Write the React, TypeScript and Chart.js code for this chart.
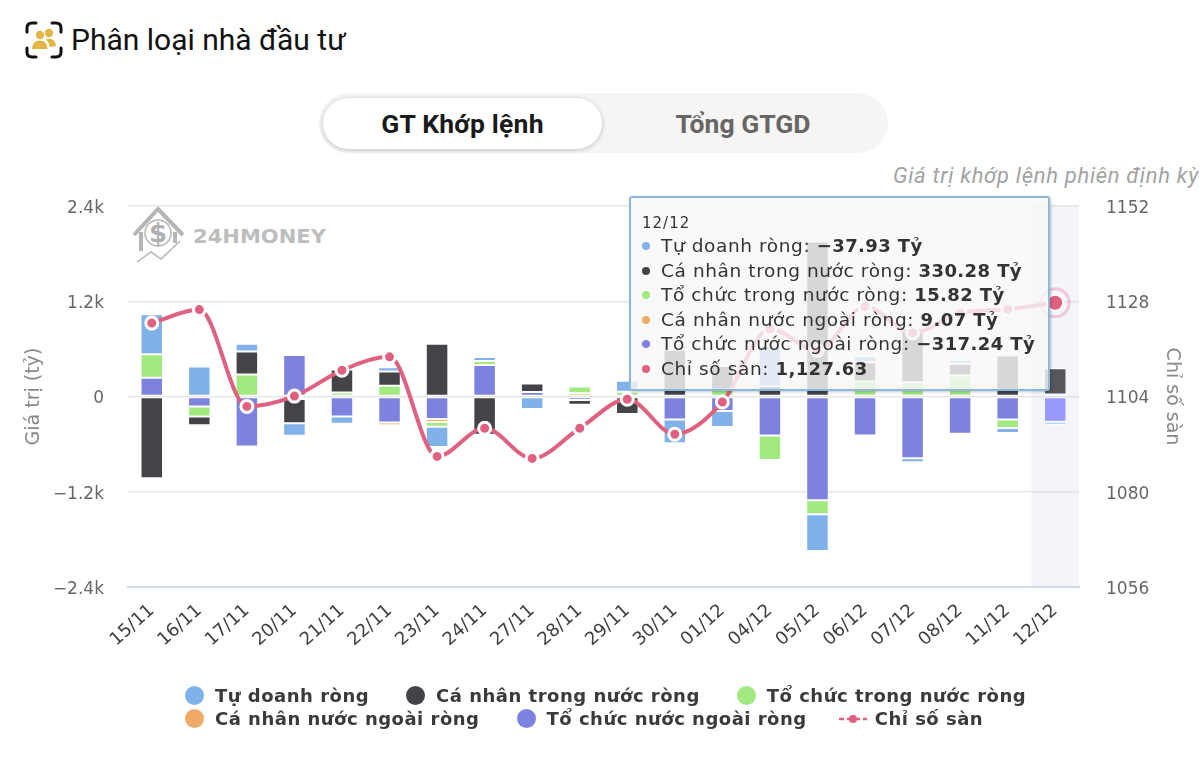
import React, { useEffect, useRef } from "react";
import { Chart, registerables } from "chart.js";

Chart.register(...registerables);

const categories = ["15/11","16/11","17/11","20/11","21/11","22/11","23/11","24/11","27/11","28/11","29/11","30/11","01/12","04/12","05/12","06/12","07/12","08/12","11/12","12/12"];

const tuDoanh = [503,377,100,-159,-92,54,-255,50,-159,0,138,-300,-200,503,-465,75,-50,50,-63,-37.93];
const caNhanTrongNuoc = [-1030,-109,289,-306,290,180,666,-482,105,-60,-220,590,300,130,1953,239,683,150,515,330.28];
const toChucTrongNuoc = [298,-126,277,-30,50,134,-60,50,0,85,60,0,85,-310,-176,193,180,264,-109,15.82];
const caNhanNuocNgoai = [0,0,0,0,0,-35,-35,0,0,40,0,0,0,0,0,0,0,0,0,9.07];
const toChucNuocNgoai = [235,-126,-629,524,-251,-327,-285,398,58,-45,0,-290,-184,-490,-1307,-490,-779,-469,-289,-317.24];
const chiSoSan = [1122.5,1125.9,1101.5,1104.1,1110.6,1114,1088.9,1096,1088.4,1096,1103.3,1094.5,1102.6,1121,1115.6,1126.7,1120,1125,1126,1127.63];

const leftTicks = [-2400,-1200,0,1200,2400];
const rightTicks = [1056,1080,1104,1128,1152];
const leftTickLabels = ["−2.4k","−1.2k","0","1.2k","2.4k"];

const seriesNames = ["Tự doanh ròng","Cá nhân trong nước ròng","Tổ chức trong nước ròng","Cá nhân nước ngoài ròng","Tổ chức nước ngoài ròng","Chỉ số sàn"];
const seriesColors = ["#80b1e8","#434348","#a2e97f","#eeaa66","#7d82df","#e0607f"];
const hoverColors = ["#99ccff","#56565c","#b8ff99","#ffbf80","#9999ff","#e0607f"];
const seriesValues = [tuDoanh,caNhanTrongNuoc,toChucTrongNuoc,caNhanNuocNgoai,toChucNuocNgoai];
const stackOrder = [5,4,3,2,1];
const activeIndex = 19;

const fontFace = "'DejaVu Sans', sans-serif";
const fmt = (v: number) => v.toLocaleString("en-US", { minimumFractionDigits: 2, maximumFractionDigits: 2 }).replace("-", "−");

const highlight = {
  id: "highlight",
  beforeDatasetsDraw(chart: any) {
    const x = chart.scales.x;
    const { top, bottom } = chart.chartArea;
    const step = x.getPixelForValue(1) - x.getPixelForValue(0);
    const ctx = chart.ctx;
    ctx.save();
    ctx.fillStyle = "rgba(204,212,235,0.24)";
    ctx.fillRect(x.getPixelForValue(activeIndex) - step / 2, top, step, bottom - top);
    ctx.restore();
  },
  afterDatasetsDraw(chart: any) {
    const pt = chart.getDatasetMeta(5).data[activeIndex];
    const ctx = chart.ctx;
    ctx.save();
    ctx.strokeStyle = "rgba(224,96,127,0.3)";
    ctx.lineWidth = 3;
    ctx.beginPath();
    ctx.arc(pt.x, pt.y, 14, 0, Math.PI * 2);
    ctx.stroke();
    ctx.restore();
  },
};

export default function App() {
  const canvasRef = useRef<HTMLCanvasElement>(null);
  const tipRef = useRef<HTMLDivElement>(null);

  useEffect(() => {
    document.body.style.margin = "0";
    const datasets: any[] = seriesValues.map((values, i) => ({
      type: "bar",
      label: seriesNames[i],
      data: values,
      backgroundColor: seriesColors[i],
      hoverBackgroundColor: hoverColors[i],
      borderColor: "#ffffff",
      hoverBorderColor: "#ffffff",
      borderWidth: 1,
      hoverBorderWidth: 1,
      borderSkipped: false,
      inflateAmount: 0,
      barThickness: 22.5,
      stack: "flow",
      order: stackOrder[i],
      yAxisID: "y",
    }));
    datasets.push({
      type: "line",
      label: seriesNames[5],
      data: chiSoSan,
      borderColor: seriesColors[5],
      backgroundColor: seriesColors[5],
      borderWidth: 4,
      cubicInterpolationMode: "monotone",
      pointRadius: 6,
      pointBorderWidth: 3,
      pointBorderColor: "#ffffff",
      pointBackgroundColor: seriesColors[5],
      pointHoverRadius: 8,
      pointHoverBorderWidth: 2,
      pointHoverBorderColor: "#ffffff",
      pointHoverBackgroundColor: seriesColors[5],
      order: 0,
      yAxisID: "y1",
    });

    const chart: any = new Chart(canvasRef.current!, {
      type: "bar",
      data: { labels: categories, datasets },
      plugins: [highlight],
      options: {
        responsive: false,
        animation: false,
        events: [],
        layout: { padding: { top: 206, left: 0, right: 0, bottom: 0 } },
        plugins: {
          legend: { display: false },
          tooltip: {
            enabled: false,
            external: ({ tooltip }: any) => {
              const el = tipRef.current;
              if (el) el.style.opacity = tooltip.dataPoints?.length ? "1" : "0";
            },
          },
        },
        scales: {
          x: {
            stacked: true,
            grid: { display: false, drawTicks: false },
            border: { color: "#d3dbe3", width: 2 },
            ticks: {
              autoSkip: false, minRotation: 42, maxRotation: 42, padding: 13,
              color: "#3f3f3f", font: { family: fontFace, size: 18 },
            },
            afterFit: (s: any) => { s.height = 174; },
          },
          y: {
            position: "left",
            stacked: true,
            min: -2400, max: 2400,
            afterBuildTicks: (s: any) => { s.ticks = leftTicks.map((value) => ({ value })); },
            grid: { color: "#e6e6e6", lineWidth: 1.5, drawTicks: false },
            border: { display: false },
            ticks: {
              padding: 24, color: "#666666", labelOffset: 2.5, font: { family: fontFace, size: 17 },
              callback: (v: any) => leftTickLabels[leftTicks.indexOf(v)],
            },
            title: {
              display: true, text: "Giá trị (tỷ)", color: "#888888",
              font: { family: fontFace, size: 19 }, padding: { top: 23, bottom: 0 },
            },
            afterFit: (s: any) => { s.width = 128; },
          },
          y1: {
            position: "right",
            min: 1056, max: 1152,
            afterBuildTicks: (s: any) => { s.ticks = rightTicks.map((value) => ({ value })); },
            grid: { display: false, drawTicks: false },
            border: { display: false },
            ticks: {
              padding: 27, color: "#666666", labelOffset: 2.5, font: { family: fontFace, size: 17 },
              callback: (v: any) => String(v),
            },
            title: {
              display: true, text: "Chỉ số sàn", color: "#888888",
              font: { family: fontFace, size: 19 }, padding: { top: 17, bottom: 0 },
            },
            afterFit: (s: any) => { s.width = 121; },
          },
        },
      } as any,
    });

    const active = datasets.map((_, datasetIndex) => ({ datasetIndex, index: activeIndex }));
    chart.setActiveElements(active);
    chart.tooltip.setActiveElements(active, { x: 0, y: 0 });
    chart.update();

    return () => chart.destroy();
  }, []);

  const rowStyle: React.CSSProperties = { display: "flex", alignItems: "center", gap: 37, height: 23 };
  const legendItem = (i: number) => (
    <div key={i} style={{ display: "flex", alignItems: "center" }}>
      {i === 5 ? (
        <svg width="28" height="12" style={{ marginRight: 8, marginLeft: -5 }}>
          <line x1="0" y1="6" x2="28" y2="6" stroke={seriesColors[i]} strokeWidth="2.5" strokeDasharray="5 3" />
          <circle cx="14" cy="6" r="4" fill={seriesColors[i]} />
        </svg>
      ) : (
        <span style={{ width: 19, height: 19, borderRadius: "50%", background: seriesColors[i], marginRight: 11 }} />
      )}
      <span>{seriesNames[i]}</span>
    </div>
  );

  const values = [...seriesValues.map((a) => a[activeIndex]), chiSoSan[activeIndex]];

  return (
    <div style={{ position: "absolute", left: 0, top: 0, width: 1200, height: 761, overflow: "hidden", background: "#fff", fontFamily: "Roboto, sans-serif" }}>
      {/* heading */}
      <svg width="38" height="38" viewBox="0 0 38 38" style={{ position: "absolute", left: 25, top: 21 }}>
        <g fill="none" stroke="#111" strokeWidth="3" strokeLinecap="round">
          <path d="M2 11 V7 Q2 2 7 2 H11" />
          <path d="M27 2 H31 Q36 2 36 7 V11" />
          <path d="M2 27 V31 Q2 36 7 36 H11" />
          <path d="M36 27 V31 Q36 36 31 36 H27" />
        </g>
        <g fill="#e2b644">
          <circle cx="15" cy="14" r="4.2" />
          <circle cx="24" cy="12" r="4.2" />
          <path d="M7 28 Q7 19.5 15 19.5 Q22 19.5 22.5 28 Z" />
          <path d="M21 18 Q30 16 31 25 L24.5 26 Q24 21 21 18 Z" />
        </g>
      </svg>
      <div style={{ position: "absolute", left: 71, top: 21, fontSize: 30, lineHeight: "38px", color: "#111", whiteSpace: "nowrap" }}>Phân loại nhà đầu tư</div>

      {/* toggle */}
      <div style={{ position: "absolute", left: 319, top: 93, width: 569, height: 60, borderRadius: 30, background: "#f6f5f3" }} />
      <div style={{ position: "absolute", left: 323, top: 98, width: 279, height: 51, borderRadius: 26, background: "#fff", boxShadow: "0 1px 5px rgba(0,0,0,0.22)", textAlign: "center", lineHeight: "51px", fontSize: 26.5, letterSpacing: 0.2, fontWeight: 700, color: "#1a1a1a" }}>GT Khớp lệnh</div>
      <div style={{ position: "absolute", left: 602, top: 98, width: 282, height: 51, textAlign: "center", lineHeight: "51px", fontSize: 26.5, fontWeight: 700, color: "#666" }}>Tổng GTGD</div>

      <div style={{ position: "absolute", left: 893, top: 163, fontSize: 22, lineHeight: "26px", fontStyle: "italic", color: "#a3a3a3", whiteSpace: "nowrap", letterSpacing: 0.7 }}>Giá trị khớp lệnh phiên định kỳ</div>

      {/* watermark */}
      <svg width="200" height="60" style={{ position: "absolute", left: 130, top: 205 }}>
        <g fill="none" stroke="#b5b5b5">
          <path d="M4 30 L28 4 L53 30" strokeWidth="4" />
          <path d="M11 27 V46" strokeWidth="4" />
          <path d="M45 27 V38" strokeWidth="4" />
          <circle cx="28" cy="28" r="13" strokeWidth="1.5" />
          <path d="M7 57 L21 47 L31 54 L50 36" strokeWidth="1.5" />
        </g>
        <text x="28" y="37" textAnchor="middle" fontSize="26" fontWeight="700" fill="#b0b0b0" fontFamily="'DejaVu Sans'">$</text>
        <text x="63" y="38" fontSize="20" fontWeight="700" fill="#bdbdbd" fontFamily="'DejaVu Sans'" textLength="133" lengthAdjust="spacingAndGlyphs">24HMONEY</text>
      </svg>

      <canvas ref={canvasRef} width={1200} height={761} style={{ position: "absolute", left: 0, top: 0, width: 1200, height: 761 }} />

      {/* legend */}
      <div style={{ position: "absolute", left: 185, top: 684, fontFamily: fontFace, fontWeight: 700, fontSize: 18, letterSpacing: 0.5, color: "#3a3a3a", whiteSpace: "nowrap" }}>
        <div style={rowStyle}>{[0, 1, 2].map(legendItem)}</div>
        <div style={rowStyle}>{[3, 4, 5].map(legendItem)}</div>
      </div>

      {/* tooltip */}
      <div ref={tipRef} style={{ position: "absolute", left: 629, top: 196, width: 421, height: 195, boxSizing: "border-box", padding: "15px 11px", background: "rgba(248,248,248,0.82)", border: "2px solid #8db8e0", borderRadius: 3, boxShadow: "1px 1px 3px rgba(0,0,0,0.22)", fontFamily: fontFace, color: "#333", whiteSpace: "nowrap" }}>
        <div style={{ fontSize: 15, lineHeight: "21px", letterSpacing: 1 }}>{categories[activeIndex]}</div>
        {seriesNames.map((n, i) => (
          <div key={n} style={{ fontSize: 18.5, letterSpacing: 0.6, lineHeight: "24.5px", display: "flex", alignItems: "center" }}>
            <span style={{ width: 8, height: 8, borderRadius: "50%", background: seriesColors[i], marginRight: 11, flex: "none" }} />
            <span>{n}:&nbsp;<b style={{ fontSize: 18, letterSpacing: 0.4 }}>{fmt(values[i])}{i < 5 ? " Tỷ" : ""}</b></span>
          </div>
        ))}
      </div>
    </div>
  );
}
